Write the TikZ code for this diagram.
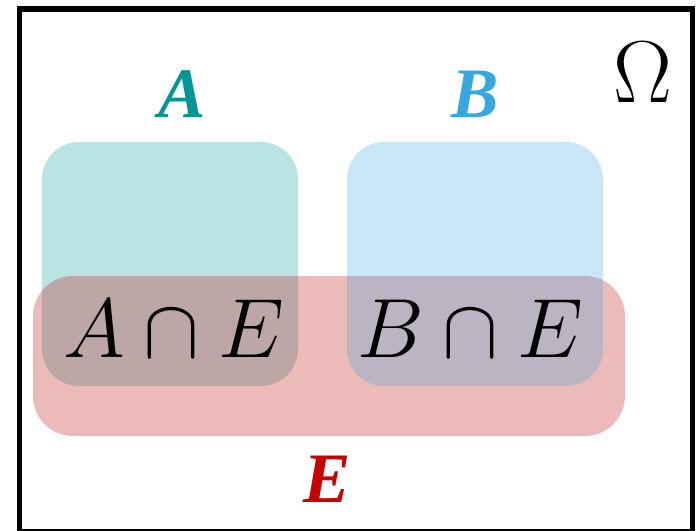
\RequirePackage{fix-cm}
\documentclass[tikz,border=0pt]{standalone}
\usepackage{fontspec}
\newfontfamily\labelfont{Liberation Serif}

\definecolor{setA}{RGB}{0,150,150}
\definecolor{setB}{RGB}{55,168,222}
\definecolor{setE}{RGB}{195,25,25}
\definecolor{labelE}{RGB}{200,0,0}

\begin{document}
\begin{tikzpicture}[x=1pt,y=-1pt,
  region/.style={rectangle, draw=none, inner sep=0pt},
  setlabel/.style={font=\labelfont\bfseries\itshape\fontsize{71}{76}\selectfont, anchor=base, inner sep=0pt},
  interlabel/.style={font=\fontsize{84}{88}\selectfont, anchor=base, inner sep=0pt}]
\useasboundingbox (0,0) rectangle (698,530);

% sample space
\node[draw, line width=5.5pt, minimum width=672.8pt, minimum height=523pt, inner sep=0pt] (omega) at (356.1,270.5) {};
\node[font=\fontsize{88}{92}\selectfont, anchor=base, inner sep=0pt] (omegalabel) at (643,102) {$\Omega$};

% events A, E, B (E sits between A and B in the stacking order)
\node[region, fill=setA, fill opacity=0.27, minimum width=256pt, minimum height=244pt, rounded corners=37pt] (A) at (170,264) {};
\node[region, fill=setE, fill opacity=0.30, minimum width=592pt, minimum height=160pt, rounded corners=40pt] (E) at (329,356) {};
\node[region, fill=setB, fill opacity=0.27, minimum width=256pt, minimum height=244pt, rounded corners=37pt] (B) at (475,264) {};

% set names
\node[setlabel, text=setA] (labA) at (182,117) {A};
\node[setlabel, text=setB] (labB) at (475,117) {B};
\node[setlabel, text=labelE] (labE) at (327,502) {E};

% intersections
\node[interlabel] (AE) at (173.5,357) {$A\cap E$};
\node[interlabel] (BE) at (470.5,357) {$B\cap E$};
\end{tikzpicture}
\end{document}
